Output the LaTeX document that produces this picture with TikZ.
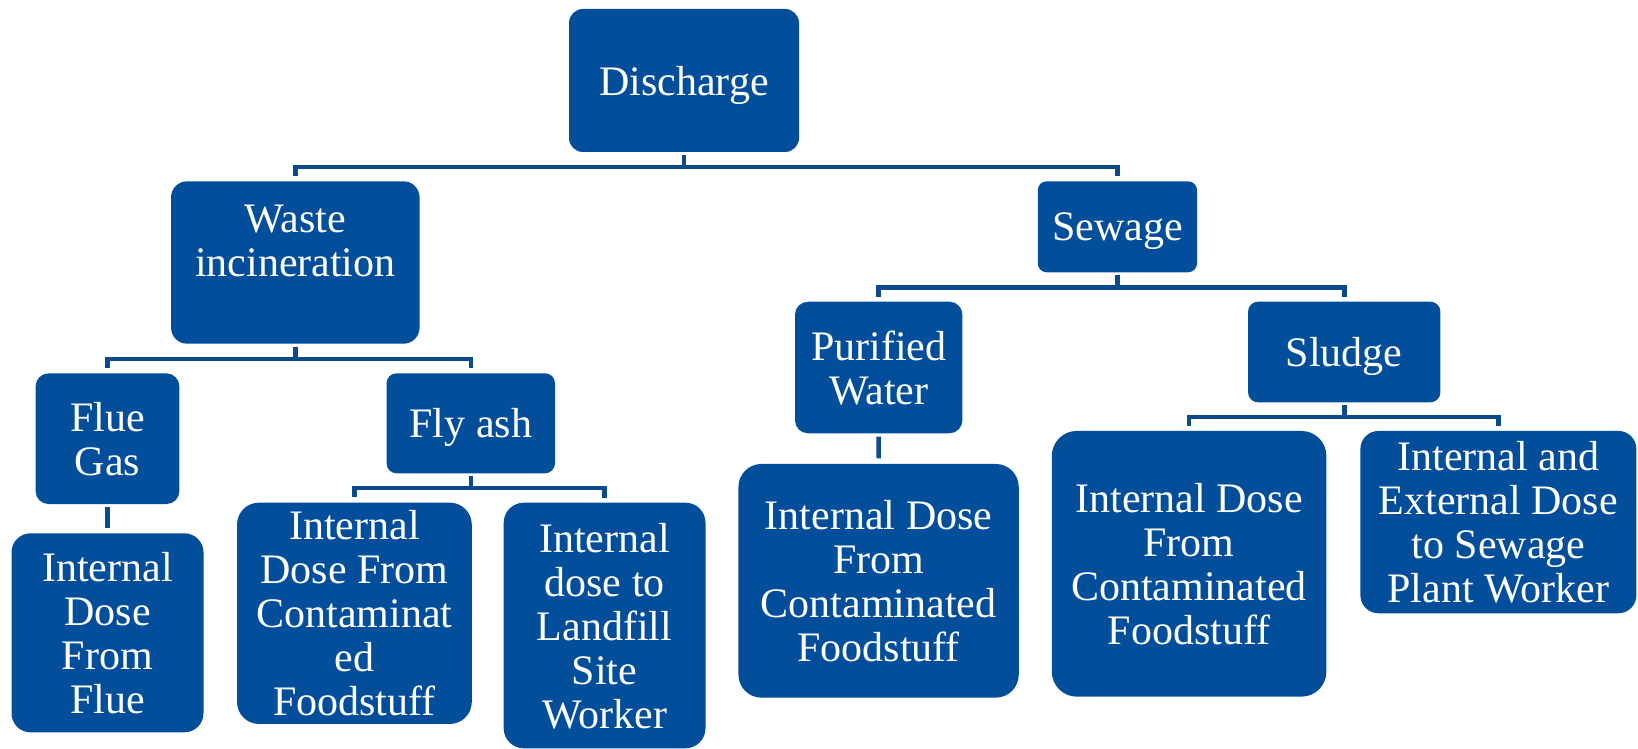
\documentclass[tikz,border=0pt]{standalone}
\usepackage{fontspec}
\setmainfont{Liberation Serif}
\usetikzlibrary{calc}
\definecolor{boxblue}{HTML}{024E9A}
\definecolor{linkblue}{HTML}{0D4A8C}

\begin{document}
\begin{tikzpicture}[x=1pt,y=-1pt,
  blk/.style={fill=boxblue, text=white, rounded corners=#1, align=center,
    inner sep=0pt, text depth=0pt, font=\fontsize{42}{44}\selectfont},
  link/.style={draw=linkblue, line width=4.6pt}]
\useasboundingbox (0,0) rectangle (1638,749);

% boxes
\node[blk=14pt, minimum width=230pt, minimum height=143pt] (disc) at (684,80.5) {Discharge};
\node[blk=16pt, minimum width=248.5pt, minimum height=162.4pt] (wast) at (295.3,262.5) {Waste\\incineration\\\mbox{}};
\node[blk=9pt, minimum width=159.3pt, minimum height=91pt] (sewg) at (1117.4,226.8) {Sewage};
\node[blk=13pt, minimum width=143.8pt, minimum height=130.7pt] (flue) at (107.5,438.7) {Flue\\Gas};
\node[blk=10pt, minimum width=168.5pt, minimum height=100pt] (flya) at (470.8,423.3) {Fly ash};
\node[blk=13pt, minimum width=167.4pt, minimum height=131.6pt] (puri) at (878.7,367.5) {Purified\\Water};
\node[blk=10pt, minimum width=192.4pt, minimum height=100.6pt] (slud) at (1344.2,352) {Sludge};
\node[blk=19pt, minimum width=192pt, minimum height=199pt] (fint) at (107.5,632.8) {Internal\\Dose\\From\\Flue};
\node[blk=22pt, minimum width=234.8pt, minimum height=221.3pt] (fcon) at (354.4,613.3) {Internal\\Dose From\\Contaminat\\ed\\Foodstuff};
\node[blk=20pt, minimum width=201.8pt, minimum height=245.6pt] (land) at (604.6,625.5) {Internal\\dose to\\Landfill\\Site\\Worker};
\node[blk=23pt, minimum width=280.3pt, minimum height=233.7pt] (pcon) at (878.6,580.8) {Internal Dose\\From\\Contaminated\\Foodstuff};
\node[blk=25pt, minimum width=274.6pt, minimum height=265.7pt] (scon) at (1189.1,563.8) {Internal Dose\\From\\Contaminated\\Foodstuff};
\node[blk=18pt, minimum width=276pt, minimum height=182.3pt] (swrk) at (1498.4,522.1) {Internal and\\External Dose\\to Sewage\\Plant Worker};

% connectors
\draw[link] ([yshift=-2.5pt]disc.south) -- ([yshift=-14.7pt]disc.south);
\draw[link] ([yshift=5pt]wast.north) |- ([yshift=-14.7pt]disc.south) -| ([yshift=5pt]sewg.north);

\draw[link] ([yshift=-2.8pt]wast.south) -- ([yshift=-15pt]wast.south);
\draw[link] ([yshift=5pt]flue.north) |- ([yshift=-15pt]wast.south) -| ([yshift=5pt]flya.north);

\draw[link] ([yshift=-2.8pt]sewg.south) -- ([yshift=-14.7pt]sewg.south);
\draw[link] ([yshift=5pt]puri.north) |- ([yshift=-14.7pt]sewg.south) -| ([yshift=5pt]slud.north);

\draw[link] ([yshift=-2.7pt]flue.south) -- ([yshift=5pt]fint.north);

\draw[link] ([yshift=-2.7pt]flya.south) -- ([yshift=-14.4pt]flya.south);
\draw[link] ([yshift=5pt]fcon.north) |- ([yshift=-14.4pt]flya.south) -| ([yshift=5pt]land.north);

\draw[link] ([yshift=-3.2pt]puri.south) -- ([yshift=5.5pt]pcon.north);

\draw[link] ([yshift=-2.7pt]slud.south) -- ([yshift=-14.4pt]slud.south);
\draw[link] ([yshift=5pt]scon.north) |- ([yshift=-14.4pt]slud.south) -| ([yshift=5pt]swrk.north);
\end{tikzpicture}
\end{document}
